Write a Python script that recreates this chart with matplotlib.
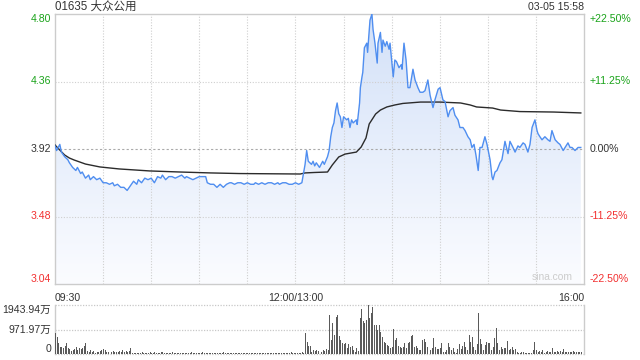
import numpy as np
import matplotlib
matplotlib.use('Agg')
import matplotlib.pyplot as plt
from matplotlib.colors import LinearSegmentedColormap

plt.rcParams['font.family'] = ['Liberation Sans', 'Noto Sans CJK SC', 'DejaVu Sans']

title = '01635 大众公用'
stamp = '03-05 15:58'
pre_close = 3.92
price_ticks = [3.04, 3.48, 3.92, 4.36, 4.80]
pct_labels = ['-22.50%', '-11.25%', '0.00%', '+11.25%', '+22.50%']
x_labels = ['09:30', '12:00/13:00', '16:00']
vol_labels = ['0', '971.97万', '1943.94万']
vol_max = 1943.94

# minutes counted from 09:30, lunch break removed (12:00 == 13:00 == 150)
t_price = [0, 1, 2, 3, 4, 6, 8, 9, 11, 13, 14, 16, 17, 19, 21, 22, 24, 26, 28, 30,
           32, 34, 36, 37, 39, 41, 43, 45, 47, 49, 51, 52, 54, 56, 58, 60, 62, 64, 66, 67,
           69, 71, 73, 75, 77, 79, 81, 82, 84, 86, 88, 90, 92, 94, 95, 97, 99, 101, 103, 105,
           107, 109, 110, 112, 114, 116, 118, 120, 122, 124, 125, 127, 129, 131, 133, 135, 137, 139, 140, 142,
           144, 146, 148, 150, 152, 154, 156, 157, 158, 160, 161, 162, 163, 165, 166, 167, 168, 170, 171, 172,
           173, 174, 175, 176, 177, 178, 179, 180, 182, 183, 184, 185, 186, 188, 188.5, 190, 190.5, 191.5, 192, 193,
           194.5, 195, 196.5, 197.7, 198.4, 199.6, 201, 201.5, 203, 204, 204.6, 206, 207, 208.4, 209, 210.2, 211, 212, 213, 214.6,
           216, 216.5, 217.7, 219, 220.2, 221.4, 222.7, 223.3, 224.6, 226.4, 227.7, 229.5, 230.8, 232.6, 234, 235.8, 237, 239, 240.2, 242,
           243.3, 245.2, 246.4, 248.3, 249.5, 251.4, 252.6, 254.5, 255.8, 257.6, 259, 260.1, 261.4, 262.6, 264, 265.1, 266.4, 268.2, 269.5, 271.4,
           272.6, 273.2, 274.5, 275.7, 277.6, 278.8, 280.7, 282.6, 283.8, 285.7, 287, 288.8, 290, 292, 293.2, 295, 296.3, 297.6, 299.4, 300.7,
           301.3, 302.5, 303.8, 305.6, 307.5, 308.8, 310, 312, 313.8, 315, 317, 318.2, 320, 321.3, 322.5, 324.4, 326.3, 328]
price = [3.94, 3.91, 3.93, 3.95, 3.90, 3.87, 3.85, 3.83, 3.80, 3.78, 3.80, 3.76, 3.77, 3.73, 3.75, 3.72, 3.74, 3.72, 3.73, 3.70,
         3.70, 3.69, 3.70, 3.68, 3.69, 3.67, 3.67, 3.65, 3.68, 3.71, 3.69, 3.72, 3.70, 3.73, 3.72, 3.73, 3.70, 3.74, 3.73, 3.75,
         3.72, 3.74, 3.74, 3.73, 3.74, 3.75, 3.73, 3.74, 3.73, 3.72, 3.73, 3.74, 3.74, 3.74, 3.70, 3.69, 3.69, 3.67, 3.69, 3.67,
         3.69, 3.70, 3.70, 3.69, 3.70, 3.70, 3.69, 3.70, 3.69, 3.69, 3.70, 3.69, 3.70, 3.69, 3.70, 3.70, 3.69, 3.70, 3.69, 3.70,
         3.70, 3.69, 3.69, 3.70, 3.69, 3.70, 3.82, 3.91, 3.84, 3.82, 3.84, 3.81, 3.83, 3.80, 3.82, 3.84, 3.82, 3.87, 3.91, 4.00,
         4.06, 4.09, 4.17, 4.22, 4.15, 4.13, 4.06, 4.13, 4.11, 4.12, 4.06, 4.11, 4.09, 4.11, 4.08, 4.22, 4.32, 4.39, 4.42, 4.58,
         4.61, 4.55, 4.76, 4.80, 4.70, 4.61, 4.48, 4.61, 4.68, 4.55, 4.63, 4.59, 4.62, 4.57, 4.61, 4.48, 4.39, 4.50, 4.49, 4.45,
         4.47, 4.44, 4.61, 4.50, 4.32, 4.32, 4.40, 4.44, 4.37, 4.32, 4.29, 4.29, 4.30, 4.37, 4.27, 4.19, 4.24, 4.31, 4.32, 4.24,
         4.23, 4.13, 4.17, 4.19, 4.14, 4.11, 4.06, 4.06, 4.04, 4.00, 3.98, 3.93, 3.95, 3.88, 3.78, 3.93, 3.93, 4.00, 3.95, 3.85,
         3.74, 3.72, 3.77, 3.78, 3.83, 3.85, 3.97, 3.89, 3.97, 3.93, 3.90, 3.94, 3.93, 3.96, 3.95, 3.90, 3.95, 4.06, 4.11, 4.04,
         4.02, 4.00, 3.98, 4.00, 3.98, 3.97, 4.04, 3.98, 3.96, 3.95, 3.91, 3.93, 3.96, 3.93, 3.93, 3.91, 3.93, 3.93]

t_avg = [0, 3, 6, 9, 12, 19, 28, 40, 59, 78, 97, 115, 153, 156, 162, 170, 173, 177, 181, 188,
         191, 194, 196, 200, 203, 207, 212, 217, 228, 240, 253, 259, 263, 273, 278, 290, 311, 328]
avg = [3.946, 3.913, 3.881, 3.861, 3.848, 3.822, 3.803, 3.790, 3.777, 3.770, 3.764, 3.760, 3.757, 3.764, 3.767, 3.770, 3.816, 3.868, 3.887, 3.900,
       3.933, 3.992, 4.083, 4.148, 4.174, 4.194, 4.207, 4.217, 4.226, 4.226, 4.220, 4.207, 4.194, 4.187, 4.174, 4.164, 4.161, 4.155]

# volume per minute, in 万 shares
vol_am = [820, 687, 423, 290, 290, 225, 330, 423, 225, 198, 132, 160, 185, 290, 160, 225, 185, 225, 317, 450,
          132, 93, 160, 93, 132, 53, 66, 93, 132, 160, 198, 160, 93, 66, 93, 93, 119, 93, 93, 93,
          119, 93, 160, 93, 119, 93, 132, 225, 53, 53, 26, 40, 53, 30, 66, 40, 26, 53, 40, 66,
          30, 53, 93, 40, 26, 53, 66, 93, 40, 30, 53, 26, 40, 66, 30, 40, 53, 26, 40, 53,
          30, 26, 40, 53, 40, 66, 26, 30, 53, 40, 26, 40, 66, 40, 30, 53, 26, 40, 30, 53,
          40, 26, 53, 30, 40, 66, 40, 26, 30, 53, 40, 30, 26, 40, 53, 30, 40, 26, 53, 40,
          30, 26, 40, 53, 30, 40, 26, 40, 30, 53, 40, 26, 40, 30, 53, 26, 40, 30, 40, 53,
          30, 40, 26, 53, 40, 30, 40, 66, 53, 40]
vol_pm = [40, 30, 50, 40, 60, 50, 820, 490, 317, 317, 93, 160, 130, 150, 100, 120, 90, 140, 120, 185,
          160, 1550, 555, 1216, 750, 1480, 1550, 714, 555, 450, 383, 450, 225, 383, 290, 317, 160, 93, 225, 100,
          1414, 1771, 1322, 1216, 1348, 1943, 1414, 1640, 1850, 1150, 1150, 952, 1150, 885, 687, 490, 423, 357, 330, 250,
          290, 980, 555, 621, 317, 264, 250, 290, 450, 225, 423, 490, 714, 750, 290, 330, 250, 160, 160, 555,
          580, 490, 290, 397, 160, 225, 621, 290, 185, 198, 225, 423, 93, 93, 160, 423, 290, 160, 225, 93,
          53, 185, 397, 185, 317, 490, 290, 160, 750, 490, 661, 290, 160, 397, 1640, 580, 397, 160, 357, 490,
          450, 423, 160, 290, 621, 1018, 423, 160, 290, 185, 225, 225, 529, 160, 185, 290, 160, 185, 93, 53,
          53, 66, 66, 53, 26, 26, 26, 26, 160, 490, 160, 93, 132, 93, 160, 53, 93, 132, 66, 93,
          225, 93, 66, 132, 93, 132, 93, 198, 66, 93, 66, 93, 66, 132, 93, 66, 93, 66, 66]

W, H = 640, 360
fig = plt.figure(figsize=(6.4, 3.6), dpi=100)
fig.patch.set_facecolor('white')

def box(l, t, r, b):
    return [l / W, 1 - b / H, (r - l) / W, (b - t) / H]

up = '#1aa31a'
down = '#f23030'
dark = '#333333'
edge = '#cccccc'
fs = 7.6

ax = fig.add_axes(box(55, 14, 584, 284))
ax.set_xlim(0, 330)
ax.set_ylim(price_ticks[0], price_ticks[-1])

# gradient fill under the price line (blue at top fading to white)
fill = ax.fill_between(t_price, price, price_ticks[0], color='none', lw=0)
grad = np.linspace(0, 1, 256).reshape(-1, 1)
cmap = LinearSegmentedColormap.from_list('g', ['#d3e1f8', '#fbfcff'])
img = ax.imshow(grad, cmap=cmap, aspect='auto', extent=[0, 330, price_ticks[0], price_ticks[-1]],
                origin='upper', zorder=1)
img.set_clip_path(fill.get_paths()[0], transform=ax.transData)
ax.set_xlim(0, 330)
ax.set_ylim(price_ticks[0], price_ticks[-1])

for v in price_ticks[1:-1]:
    if v == pre_close:
        ax.axhline(v, color='#aaaaaa', lw=0.8, ls=(0, (2, 2)), zorder=2)
    else:
        ax.axhline(v, color='#cfcfcf', lw=0.8, ls=(0, (1, 1.5)), zorder=2)
for m in range(30, 330, 30):
    ax.axvline(m, color='#cfcfcf', lw=0.8, ls=(0, (1, 1.5)), zorder=2)

ax.plot(t_price, price, color='#4f8ef0', lw=1.0, zorder=4)
ax.plot(t_avg, avg, color='#2b2b2b', lw=1.0, zorder=3)

ax.set_xticks([])
ax.set_yticks([])
for s in ax.spines.values():
    s.set_color(edge)
    s.set_linewidth(1.0)

lab_cols = [down, down, dark, up, up]
for i, v in enumerate(price_ticks):
    va = 'bottom' if i == 0 else ('top' if i == len(price_ticks) - 1 else 'center')
    ax.text(-4 / 529 * 330, v, f'{v:.2f}', ha='right', va=va, color=lab_cols[i], fontsize=fs)
    ax.text(330 + 6 / 529 * 330, v, pct_labels[i], ha='left', va=va, color=lab_cols[i], fontsize=fs)

ax.text(0, 1 + 7.5 / 270, title, transform=ax.transAxes, ha='left', va='center', color=dark, fontsize=8.3)
ax.text(1, 1 + 7.5 / 270, stamp, transform=ax.transAxes, ha='right', va='center', color=dark, fontsize=fs)
ax.text(0.979, 0.008, 'sina.com', transform=ax.transAxes, ha='right', va='bottom', color='#cccccc', fontsize=7.4)

ax.text(0, -0.035, x_labels[0], transform=ax.transAxes, ha='left', va='top', color=dark, fontsize=fs)
ax.text(150 / 330, -0.035, x_labels[1], transform=ax.transAxes, ha='center', va='top', color=dark, fontsize=fs)
ax.text(1, -0.035, x_labels[2], transform=ax.transAxes, ha='right', va='top', color=dark, fontsize=fs)

# volume panel
vx = fig.add_axes(box(55, 305, 584, 354))
vol = vol_am + vol_pm
vx.bar(np.arange(len(vol)), vol, width=0.62, color='#5a5a5a', align='edge', zorder=3)
vx.set_xlim(0, 330)
vx.set_ylim(0, vol_max)
for v in [0, vol_max / 2, vol_max]:
    vx.axhline(v, color='#c8c8c8', lw=0.9, ls=(0, (1, 1.2)), zorder=1, clip_on=False)
vx.set_xticks([])
vx.set_yticks([])
vx.spines['top'].set_visible(False)
vx.spines['bottom'].set_visible(False)
for k in ['left', 'right']:
    vx.spines[k].set_color(edge)
    vx.spines[k].set_linewidth(1.0)
vy = [0, vol_max / 2, vol_max]
vva = ['bottom', 'center', 'top']
for i in range(3):
    vx.text(-4 / 529 * 330, vy[i], vol_labels[i], ha='right', va=vva[i], color=dark, fontsize=fs)

fig.savefig('out.png', dpi=100)
